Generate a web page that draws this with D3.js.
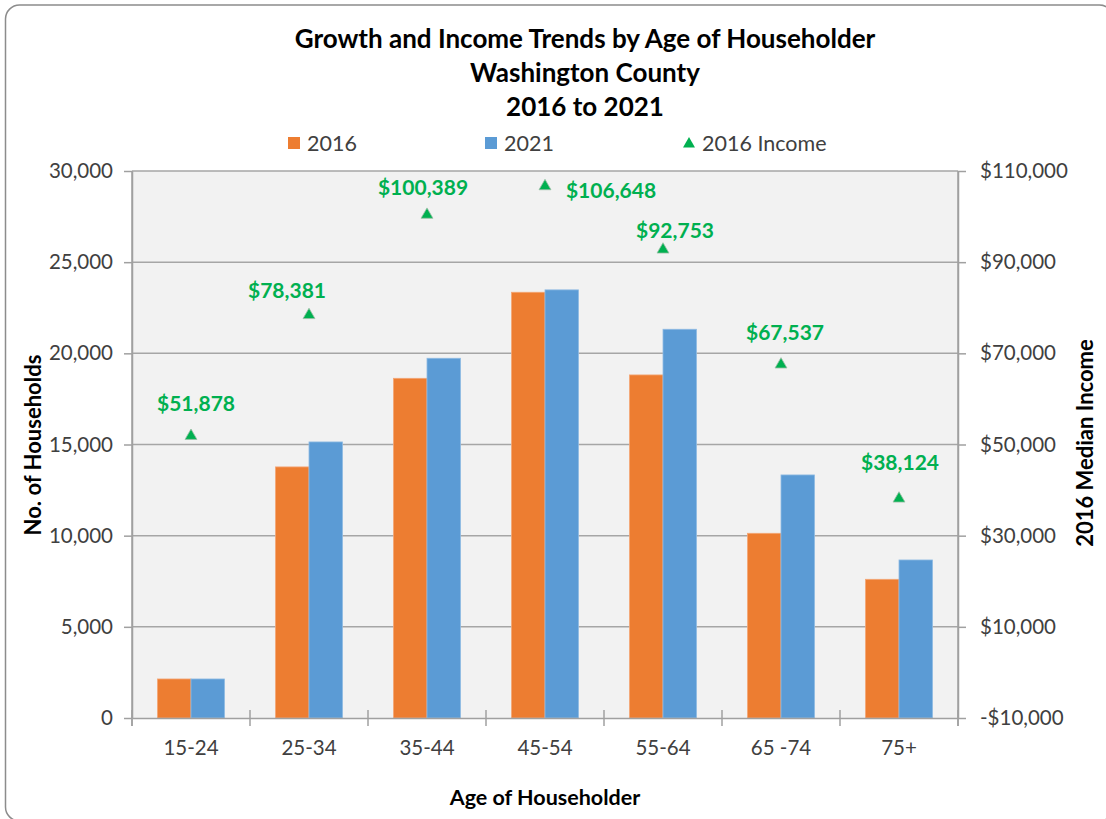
<!DOCTYPE html>
<html>
<head>
<meta charset="utf-8">
<script src="https://cdn.jsdelivr.net/npm/d3@7"></script>
<style>
  html, body { margin: 0; padding: 0; background: #fff; }
  svg { display: block; font-family: Lato, "Open Sans", sans-serif; }
</style>
</head>
<body>
<svg id="chart" width="1106" height="819"></svg>
<script>
// Households by age of householder, Washington County
const categories = ['15-24', '25-34', '35-44', '45-54', '55-64', '65 -74', '75+'];
const households2016 = [2140, 13770, 18630, 23350, 18815, 10130, 7607];
const households2021 = [2140, 15140, 19730, 23480, 21320, 13330, 8667];
const income2016 = [51878, 78381, 100389, 106648, 92753, 67537, 38124];

const leftTicks = [0, 5000, 10000, 15000, 20000, 25000, 30000];
const rightTicks = [-10000, 10000, 30000, 50000, 70000, 90000, 110000];

const seriesNames = ['2016', '2021'];
const seriesColors = ['#ED7D31', '#5B9BD5'];
const incomeColor = '#00B050';

// label placement relative to each triangle (Excel moved some by hand)
const labelShift = [[5, -33], [-22, -26], [-4, -28], [66, 3], [12, -20], [4, -33], [1, -37]];

const svg = d3.select('#chart');

const plot = { left: 132, right: 958, top: 171, bottom: 718 };

// chart border
svg.append('rect')
    .attr('x', 5.5).attr('y', 5)
    .attr('width', 1108).attr('height', 816)
    .attr('rx', 14)
    .attr('fill', 'none')
    .attr('stroke', '#8c8c8c')
    .attr('stroke-width', 1.5);

// scales
const xOuter = d3.scaleBand()
    .domain(categories)
    .range([plot.left, plot.right]);

const x0 = d3.scaleBand()
    .domain(categories)
    .range([plot.left, plot.right])
    .paddingInner(0.432)
    .paddingOuter(0.216);

const x1 = d3.scaleBand()
    .domain(seriesNames)
    .range([0, x0.bandwidth()]);

const yL = d3.scaleLinear().domain([0, 30000]).range([plot.bottom, plot.top]);
const yR = d3.scaleLinear().domain([-10000, 110000]).range([plot.bottom, plot.top]);

// plot background
svg.append('rect')
    .attr('x', plot.left).attr('y', plot.top)
    .attr('width', plot.right - plot.left)
    .attr('height', plot.bottom - plot.top)
    .attr('fill', '#F2F2F2');

// gridlines
svg.append('g')
    .selectAll('line')
    .data(leftTicks.slice(1))
    .join('line')
    .attr('x1', plot.left).attr('x2', plot.right)
    .attr('y1', d => yL(d)).attr('y2', d => yL(d))
    .attr('stroke', '#A6A6A6')
    .attr('stroke-width', 1.5);

// bars
const groups = svg.append('g')
    .selectAll('g')
    .data(categories)
    .join('g')
    .attr('transform', d => `translate(${x0(d)},0)`);

groups.selectAll('rect')
    .data((d, i) => [households2016[i], households2021[i]].map((v, k) => ({ key: seriesNames[k], value: v, k })))
    .join('rect')
    .attr('x', d => x1(d.key))
    .attr('y', d => yL(d.value))
    .attr('width', x1.bandwidth())
    .attr('height', d => yL(0) - yL(d.value))
    .attr('fill', d => seriesColors[d.k])
    .attr('stroke', d => d.k === 0 ? '#F4A676' : '#8FBBE3')
    .attr('stroke-width', 0.8);

// left axis
const leftAxis = svg.append('g')
    .attr('transform', `translate(${plot.left},0)`)
    .call(d3.axisLeft(yL).tickValues(leftTicks).tickFormat(d3.format(',')).tickSize(8).tickSizeOuter(0).tickPadding(11));

// right axis
const moneyFmt = d => (d < 0 ? '-$' : '$') + d3.format(',')(Math.abs(d));
const rightAxis = svg.append('g')
    .attr('transform', `translate(${plot.right},0)`)
    .call(d3.axisRight(yR).tickValues(rightTicks).tickFormat(moneyFmt).tickSize(8).tickSizeOuter(0).tickPadding(14));

// bottom axis labels
const bottomAxis = svg.append('g')
    .attr('transform', `translate(0,${plot.bottom})`)
    .call(d3.axisBottom(xOuter).tickSize(0).tickPadding(22));

[leftAxis, rightAxis, bottomAxis].forEach(a => {
    a.select('.domain').attr('stroke', '#A0A0A0').attr('stroke-width', 1.5);
    a.selectAll('.tick line').attr('stroke', '#A0A0A0').attr('stroke-width', 1.5);
    a.selectAll('.tick text')
        .attr('fill', '#404040')
        .style('font-size', '20.5px')
        .style('font-family', 'Lato, sans-serif');
});

// vertical axis lines run a bit past the baseline
[plot.left, plot.right].forEach(px => {
    svg.append('line')
        .attr('x1', px).attr('x2', px)
        .attr('y1', plot.top).attr('y2', plot.bottom + 8)
        .attr('stroke', '#A0A0A0').attr('stroke-width', 1.5);
});

// category boundary ticks crossing the baseline
const bounds = categories.map(c => xOuter(c)).concat([plot.right]);
svg.append('g')
    .selectAll('line')
    .data(bounds)
    .join('line')
    .attr('x1', d => d).attr('x2', d => d)
    .attr('y1', plot.bottom - 8).attr('y2', plot.bottom + 8)
    .attr('stroke', '#A0A0A0').attr('stroke-width', 1.5);

// income triangles
const tri = d3.symbol(d3.symbolTriangle).size(62);
const cx = c => x0(c) + x0.bandwidth() / 2;

svg.append('g')
    .selectAll('path')
    .data(categories)
    .join('path')
    .attr('d', tri)
    .attr('transform', (c, i) => `translate(${cx(c)},${yR(income2016[i])})`)
    .attr('fill', incomeColor)
    .attr('stroke', '#9bbfa6')
    .attr('stroke-width', 0.8);

// income labels
svg.append('g')
    .selectAll('text')
    .data(categories)
    .join('text')
    .attr('x', (c, i) => cx(c) + labelShift[i][0])
    .attr('y', (c, i) => yR(income2016[i]) + labelShift[i][1])
    .attr('text-anchor', 'middle')
    .attr('dominant-baseline', 'central')
    .attr('fill', incomeColor)
    .style('font-size', '21px')
    .style('font-weight', 'bold')
    .text((c, i) => moneyFmt(income2016[i]));

// title
const titleLines = ['Growth and Income Trends by Age of Householder', 'Washington County', '2016 to 2021'];
svg.append('g')
    .selectAll('text')
    .data(titleLines)
    .join('text')
    .attr('x', 585)
    .attr('y', (d, i) => 38 + i * 34)
    .attr('text-anchor', 'middle')
    .attr('dominant-baseline', 'central')
    .attr('fill', '#000')
    .style('font-size', '26px')
    .style('font-weight', 'bold')
    .text(d => d);

// legend
const legendItems = [
    { label: '2016', x: 288, type: 'rect', color: seriesColors[0] },
    { label: '2021', x: 485, type: 'rect', color: seriesColors[1] },
    { label: '2016 Income', x: 683, type: 'tri', color: incomeColor }
];
const legend = svg.append('g');
legendItems.forEach(it => {
    if (it.type === 'rect') {
        legend.append('rect')
            .attr('x', it.x).attr('y', 137)
            .attr('width', 12).attr('height', 12)
            .attr('fill', it.color);
    } else {
        legend.append('path')
            .attr('d', tri)
            .attr('transform', `translate(${it.x + 6},144)`)
            .attr('fill', it.color);
    }
    legend.append('text')
        .attr('x', it.x + 19)
        .attr('y', 143)
        .attr('dominant-baseline', 'central')
        .attr('fill', '#404040')
        .style('font-size', '21.5px')
        .text(it.label);
});

// axis titles
svg.append('text')
    .attr('x', 545).attr('y', 797)
    .attr('text-anchor', 'middle')
    .attr('dominant-baseline', 'central')
    .style('font-size', '21.5px')
    .style('font-weight', 'bold')
    .text('Age of Householder');

svg.append('text')
    .attr('transform', 'translate(32,445) rotate(-90)')
    .attr('text-anchor', 'middle')
    .attr('dominant-baseline', 'central')
    .style('font-size', '22px')
    .style('font-weight', 'bold')
    .text('No. of Households');

svg.append('text')
    .attr('transform', 'translate(1084,443) rotate(-90)')
    .attr('text-anchor', 'middle')
    .attr('dominant-baseline', 'central')
    .style('font-size', '22px')
    .style('font-weight', 'bold')
    .text('2016 Median Income');
</script>
</body>
</html>
